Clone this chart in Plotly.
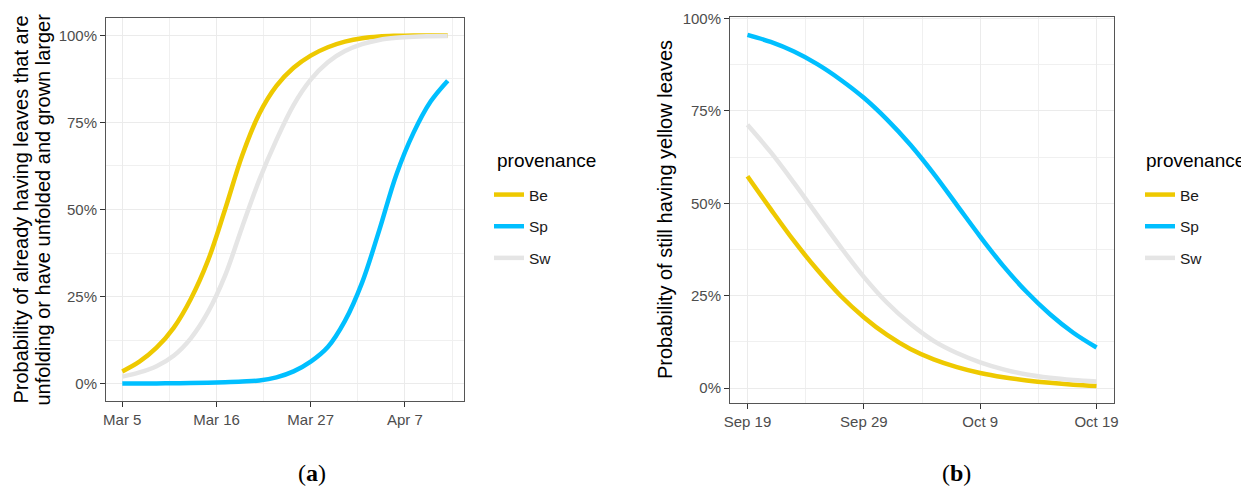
import pandas as pd
import plotly.graph_objects as go

# ---------------- data ----------------
# Panel (a): leaf unfolding, one value every 2 days from Mar 5
a_start = "2020-03-05"
a_step_days = 2
a_be = [3.5, 6.3, 10.3, 16.0, 24.3, 35.3, 50.0, 65.5, 77.5, 85.5,
        90.7, 94.2, 96.6, 98.2, 99.2, 99.7, 99.9, 100.0, 100.0, 100.0]
a_sp = [0.0, 0.0, 0.05, 0.1, 0.15, 0.25, 0.4, 0.6, 0.9, 1.8,
        3.5, 6.3, 10.5, 18.0, 29.0, 44.0, 60.0, 72.0, 81.0, 87.0]
a_sw = [2.0, 3.2, 5.0, 8.0, 13.0, 20.5, 31.0, 45.0, 58.5, 70.0,
        80.0, 87.3, 92.3, 95.5, 97.5, 98.7, 99.3, 99.6, 99.75, 99.85]
a_tick_dates = ["2020-03-05", "2020-03-16", "2020-03-27", "2020-04-07"]
a_tick_labels = ["Mar 5", "Mar 16", "Mar 27", "Apr 7"]

# Panel (b): yellow leaves, one value every 2 days from Sep 19
b_start = "2020-09-19"
b_step_days = 2
b_be = [57.3, 48.4, 39.8, 32.0, 25.0, 19.2, 14.4, 10.6, 7.8, 5.7,
        4.1, 2.95, 2.1, 1.45, 0.95, 0.6]
b_sp = [95.5, 93.6, 91.0, 87.6, 83.4, 78.5, 72.6, 65.8, 58.0, 49.5,
        41.0, 33.0, 26.0, 20.0, 15.0, 11.0]
b_sw = [71.2, 63.8, 55.5, 46.8, 38.2, 30.1, 23.1, 17.4, 12.8, 9.5,
        7.0, 5.1, 3.7, 2.8, 2.2, 1.8]
b_tick_dates = ["2020-09-19", "2020-09-29", "2020-10-09", "2020-10-19"]
b_tick_labels = ["Sep 19", "Sep 29", "Oct 9", "Oct 19"]

y_tick_vals = [0, 25, 50, 75, 100]
y_tick_labels = ["0%", "25%", "50%", "75%", "100%"]
y_minor_vals = [12.5, 37.5, 62.5, 87.5]

provenances = ["Be", "Sp", "Sw"]
colors = {"Be": "#EEC900", "Sp": "#00BFFF", "Sw": "#E5E5E5"}

# ---------------- derived positions ----------------
a_dates = pd.date_range(a_start, periods=len(a_be), freq=f"{a_step_days}D")
b_dates = pd.date_range(b_start, periods=len(b_be), freq=f"{b_step_days}D")


def date_range_padded(dates, frac=0.05):
    span = dates[-1] - dates[0]
    pad = span * frac
    return [(dates[0] - pad).strftime("%Y-%m-%d %H:%M:%S"),
            (dates[-1] + pad).strftime("%Y-%m-%d %H:%M:%S")]


def minor_dates(ticks):
    t = pd.to_datetime(ticks)
    half = (t[1] - t[0]) / 2
    out = [(x + half).strftime("%Y-%m-%d %H:%M:%S") for x in t]
    out.append((t[0] - half).strftime("%Y-%m-%d %H:%M:%S"))
    return out


# the page body has an 8px margin; the figure is sized to fit inside the window
OFF = 8
W, H = 1249 - OFF, 492 - OFF


def px(x):
    return (x - OFF) / W


def py(y):
    return 1 - (y - OFF) / H


FONT = "Liberation Sans, Arial, sans-serif"

fig = go.Figure()
a_series = {"Be": a_be, "Sp": a_sp, "Sw": a_sw}
b_series = {"Be": b_be, "Sp": b_sp, "Sw": b_sw}
for p in provenances:
    fig.add_trace(go.Scatter(
        x=a_dates, y=a_series[p], mode="lines", name=p,
        line=dict(color=colors[p], width=4.5, shape="spline"),
        xaxis="x", yaxis="y", legend="legend", legendgroup="a" + p))
for p in provenances:
    fig.add_trace(go.Scatter(
        x=b_dates, y=b_series[p], mode="lines", name=p,
        line=dict(color=colors[p], width=4.5, shape="spline"),
        xaxis="x2", yaxis="y2", legend="legend2", legendgroup="b" + p))

axis_common = dict(
    showline=True, mirror=True, linecolor="#555555", linewidth=1,
    ticks="outside", ticklen=5, tickcolor="#333333", tickwidth=1,
    tickfont=dict(family=FONT, size=15, color="#4D4D4D"),
    showgrid=True, gridcolor="#EBEBEB", gridwidth=1.4, zeroline=False,
    automargin=False,
)
minor_common = dict(showgrid=True, gridcolor="#F0F0F0", gridwidth=0.8, ticks="")

legend_common = dict(
    yanchor="top", y=py(178), xanchor="left",
    font=dict(family=FONT, size=15.5, color="#1A1A1A"),
    tracegroupgap=8.5, bgcolor="rgba(0,0,0,0)", itemwidth=30,
)

fig.update_layout(
    width=W, height=H, margin=dict(l=0, r=0, t=0, b=0),
    paper_bgcolor="white", plot_bgcolor="white",
    font=dict(family=FONT),
    xaxis=dict(domain=[px(106), px(464)], type="date", anchor="y",
               range=date_range_padded(a_dates),
               tickmode="array", tickvals=a_tick_dates, ticktext=a_tick_labels,
               minor=dict(tickmode="array", tickvals=minor_dates(a_tick_dates), **minor_common),
               **axis_common),
    yaxis=dict(domain=[py(401), py(18)], anchor="x",
               range=[-5, 105],
               tickmode="array", tickvals=y_tick_vals, ticktext=y_tick_labels,
               minor=dict(tickmode="array", tickvals=y_minor_vals, **minor_common),
               **axis_common),
    xaxis2=dict(domain=[px(730), px(1114)], type="date", anchor="y2",
                range=date_range_padded(b_dates),
                tickmode="array", tickvals=b_tick_dates, ticktext=b_tick_labels,
                minor=dict(tickmode="array", tickvals=minor_dates(b_tick_dates), **minor_common),
                **axis_common),
    yaxis2=dict(domain=[py(403), py(17)], anchor="x2",
                range=[-4.0, 100.35],
                tickmode="array", tickvals=y_tick_vals, ticktext=y_tick_labels,
                minor=dict(tickmode="array", tickvals=y_minor_vals, **minor_common),
                **axis_common),
    legend=dict(x=px(489), **legend_common),
    legend2=dict(x=px(1140), **legend_common),
)

title_font = dict(family=FONT, size=20, color="#000000")
annos = [
    dict(text="Probability of already having leaves that are", x=px(20), y=py(209.5)),
    dict(text="unfolding or have unfolded and grown larger", x=px(42), y=py(209.5)),
    dict(text="Probability of still having yellow leaves", x=px(665), y=py(210)),
]
for a in annos:
    fig.add_annotation(xref="paper", yref="paper", xanchor="center", yanchor="middle",
                       textangle=-90, showarrow=False, font=title_font, **a)

# legend titles
for xl in [495, 1144]:
    fig.add_annotation(xref="paper", yref="paper", x=px(xl), y=py(160),
                       xanchor="left", yanchor="middle", showarrow=False,
                       text="provenance", font=dict(family=FONT, size=19, color="#000000"))

cap_font = dict(family="Liberation Serif, Times New Roman, serif", size=24, color="#000000")
for txt, xc in [("(<b>a</b>)", 312), ("(<b>b</b>)", 957)]:
    fig.add_annotation(xref="paper", yref="paper", x=px(xc), y=py(473),
                       xanchor="center", yanchor="middle", showarrow=False,
                       text=txt, font=cap_font)

fig.write_html("out.html")
